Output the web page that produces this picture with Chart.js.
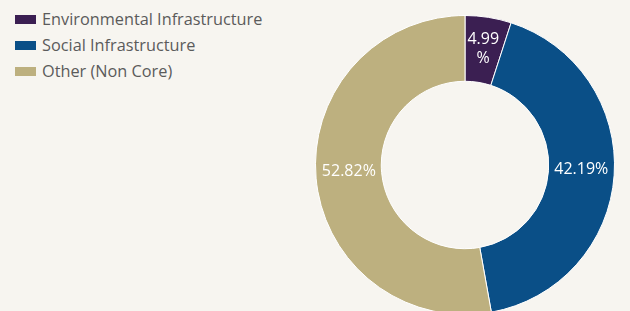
<!DOCTYPE html>
<html>
<head>
<meta charset="utf-8">
<script src="https://cdn.jsdelivr.net/npm/chart.js@4.4.1/dist/chart.umd.min.js"></script>
<style>
  html, body { margin: 0; padding: 0; background: #f7f5f0; }
  body { width: 630px; height: 311px; overflow: hidden; position: relative; font-family: "Open Sans", sans-serif; }
  #wrap { position: absolute; left: 0; top: 0; width: 630px; height: 320px; }
  #legend { position: absolute; left: 15px; top: 7px; color: #5b5b5b; font-size: 16.3px; }
  #legend div { height: 26px; line-height: 24px; white-space: nowrap; }
  #legend span { display: inline-block; width: 21px; height: 9px; margin-right: 6px; vertical-align: 1px; }
</style>
</head>
<body>
<div id="legend"></div>
<div id="wrap"><canvas id="chart"></canvas></div>
<script>
  const categories = ['Environmental Infrastructure', 'Social Infrastructure', 'Other (Non Core)'];
  const shares = [4.99, 42.19, 52.82];
  const colours = ['#3b1f52', '#0a4f87', '#bdb07f'];

  // legend, built from the same arrays
  const legend = document.getElementById('legend');
  categories.forEach((name, i) => {
    const row = document.createElement('div');
    const box = document.createElement('span');
    box.style.background = colours[i];
    row.appendChild(box);
    row.appendChild(document.createTextNode(name));
    legend.appendChild(row);
  });

  // percentage labels in the middle of each ring segment
  const sliceLabels = {
    id: 'sliceLabels',
    afterDatasetsDraw(chart) {
      const ctx = chart.ctx;
      const meta = chart.getDatasetMeta(0);
      ctx.save();
      ctx.font = '16px "Open Sans", sans-serif';
      ctx.fillStyle = '#ffffff';
      ctx.textAlign = 'center';
      ctx.textBaseline = 'middle';
      meta.data.forEach((arc, i) => {
        const p = arc.tooltipPosition();
        const text = shares[i].toFixed(2) + '%';
        const r = (arc.innerRadius + arc.outerRadius) / 2;
        const room = (arc.endAngle - arc.startAngle) * r;
        if (ctx.measureText(text).width > room) {
          ctx.fillText(shares[i].toFixed(2), p.x, p.y - 10);
          ctx.fillText('%', p.x, p.y + 9);
        } else {
          ctx.fillText(text, p.x, p.y - 4);
        }
      });
      ctx.restore();
    }
  };

  new Chart(document.getElementById('chart'), {
    type: 'doughnut',
    data: {
      labels: categories,
      datasets: [{
        data: shares,
        backgroundColor: colours,
        borderColor: '#ffffff',
        borderWidth: 1
      }]
    },
    options: {
      responsive: true,
      maintainAspectRatio: false,
      animation: false,
      cutout: '56%',
      layout: { padding: { left: 315, right: 15, top: 15, bottom: 5 } },
      plugins: {
        legend: { display: false },
        tooltip: { enabled: false }
      }
    },
    plugins: [sliceLabels]
  });
</script>
</body>
</html>
